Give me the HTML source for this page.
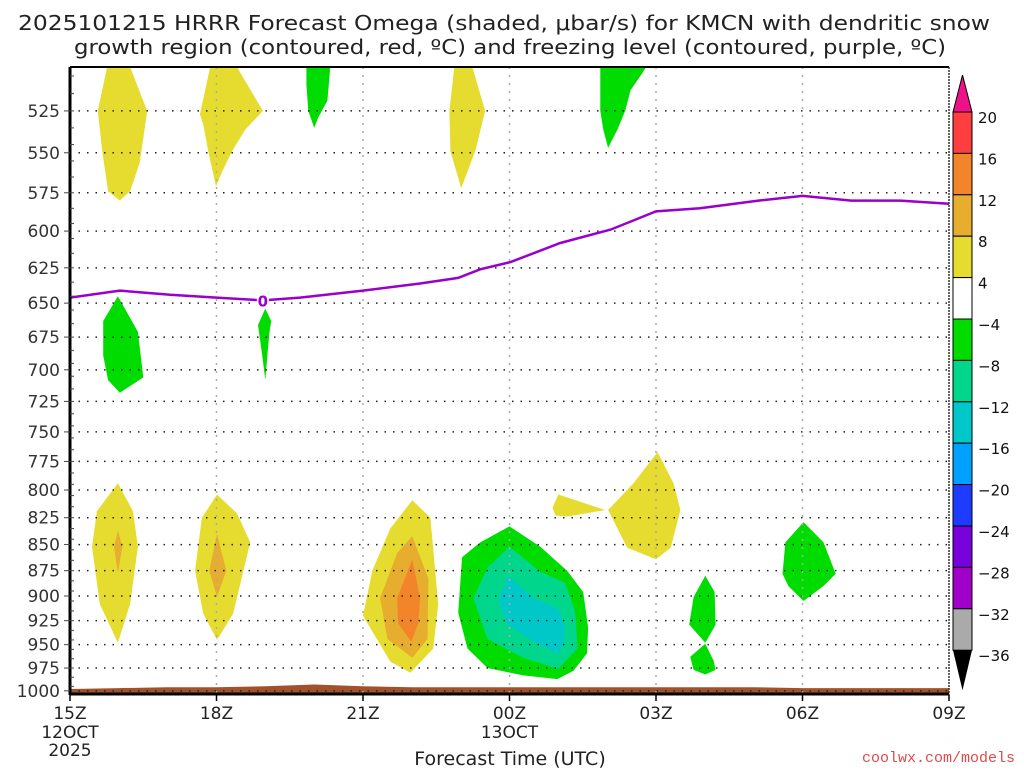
<!DOCTYPE html>
<html><head><meta charset="utf-8"><style>
html,body{margin:0;padding:0;background:#fff;}
svg{display:block;font-family:"DejaVu Sans","Liberation Sans",sans-serif;}
</style></head><body>
<svg id="chart" width="1024" height="768" viewBox="0 0 1024 768" xmlns="http://www.w3.org/2000/svg">
<rect x="0" y="0" width="1024" height="768" fill="#fff"/>
<text x="504" y="30" font-size="20" fill="#222" text-anchor="middle" textLength="972" lengthAdjust="spacingAndGlyphs">2025101215 HRRR Forecast Omega (shaded, μbar/s) for KMCN with dendritic snow</text>
<text x="510" y="54" font-size="20" fill="#222" text-anchor="middle" textLength="872" lengthAdjust="spacingAndGlyphs">growth region (contoured, red, ºC) and freezing level (contoured, purple, ºC)</text>
<g id="plot"></g>
<g id="axes"></g>
<g id="cbar"></g>
<text x="510" y="765" font-size="19" fill="#222" text-anchor="middle">Forecast Time (UTC)</text>
<text x="1015" y="762" font-size="15" fill="#e04a4a" text-anchor="end" font-family="Liberation Mono, monospace">coolwx.com/models</text>
</svg>
<script>
// ---- data ----
const pressureTicks = [525,550,575,600,625,650,675,700,725,750,775,800,825,850,875,900,925,950,975,1000];
const timeTickHours = [0,3,6,9,12,15,18];
const timeTickLabels = ["15Z","18Z","21Z","00Z","03Z","06Z","09Z"];
const freezeHours = [0,1.02,2.05,3,3.95,4.71,6,7.17,7.95,8.4,9.02,10.04,11.07,12,12.9,14.1,15,16,17,18];
const freezePres  = [646,641,644,646,648,646,641,636,632,626,621,608,599,587,585,580,577,580,580,582];
const surfHours = [0,1,2,3,4,5,6,7,8,9,10,11,12,13,14,15,16,17,18];
const surfPres  = [998,997,996,996,995,993,995,996,996,996,996,996,996,996,996,997,997,997,997];
const cbarLabels = ["20","16","12","8","4","-4","-8","-12","-16","-20","-24","-28","-32","-36"];
const cbarColors = ["#ff3f3f","#f2852a","#e6ad2f","#e6dc30","#ffffff","#00dc00","#00d78c","#00c8c8","#00a0ff","#1e3cff","#7800dc","#a000c8","#aaaaaa"];
// shaded omega regions: [color, hours[], pressures[]]
const regionColors = ["#e6dc30","#e6dc30","#00dc00","#e6dc30","#00dc00","#00dc00","#00dc00",
 "#e6dc30","#e6ad2f","#e6dc30","#e6ad2f","#e6dc30","#e6ad2f","#f2852a",
 "#00dc00","#00d78c","#00c8c8","#e6dc30","#e6dc30","#00dc00","#00dc00","#00dc00"];
const regionHours = [
 [0.76,1.23,1.58,1.43,1.23,1.02,0.78,0.66,0.57],
 [2.87,3.42,3.95,3.59,3.32,3.11,2.99,2.83,2.73,2.66],
 [4.84,5.33,5.27,5.08,5.0,4.88,4.84],
 [7.87,8.24,8.5,8.3,8.01,7.79,7.77],
 [10.86,11.8,11.68,11.48,11.37,11.21,11.02,10.92,10.86],
 [0.98,1.39,1.5,1.02,0.78,0.68,0.68],
 [4.0,4.12,4.08,4.0,3.93,3.85],
 [0.98,1.29,1.39,1.23,0.98,0.61,0.45,0.55],
 [0.98,1.07,0.98,0.9],
 [3.01,3.42,3.69,3.34,3.01,2.73,2.56,2.7],
 [3.01,3.2,3.01,2.85],
 [7.01,7.38,7.54,7.44,6.97,6.56,6.0,6.19,6.56],
 [7.01,7.34,7.32,7.01,6.5,6.35,6.7],
 [7.01,7.17,7.13,6.99,6.72,6.7],
 [9.0,9.63,10.18,10.51,10.61,10.59,10.31,9.98,9.28,8.55,8.14,7.95,8.03,8.4],
 [9.0,9.63,10.14,10.35,10.39,10.0,9.28,8.55,8.26,8.55],
 [8.98,9.49,10.0,10.14,10.1,10.0,9.43,8.96,8.77],
 [10.0,10.96,10.18,9.94,9.88],
 [12.03,12.36,12.5,12.3,12.0,11.41,11.02,11.54],
 [13.01,13.2,13.22,13.01,12.68,12.77],
 [13.01,13.18,13.22,13.01,12.77,12.7],
 [15.02,15.43,15.68,15.43,15.02,14.71,14.59,14.65]
];
const regionPres = [
 [500,500,525,556,574,580,574,549,525],
 [500,500,525,536,549,562,571,549,533,527],
 [500,500,519,529,535,525,510],
 [500,500,525,549,572,549,525],
 [500,500,505,513,525,536,547,536,525],
 [645,671,706,718,708,689,663],
 [654,663,673,708,687,666],
 [794,819,852,908,948,908,852,819],
 [837,852,877,852],
 [804,821,848,918,945,918,875,825],
 [840,875,901,875],
 [809,825,908,954,980,968,920,875,835],
 [842,883,944,964,944,902,858],
 [864,902,928,947,928,902],
 [833,852,875,896,932,959,978,987,983,975,954,917,862,848],
 [852,876,887,917,954,976,964,944,902,872],
 [880,902,913,932,950,960,945,929,904],
 [804,818,824,823,816],
 [767,794,818,853,864,853,818,794],
 [880,896,929,948,929,901],
 [949,967,977,982,977,963],
 [829,848,878,890,905,890,878,848]
];
// ---- axes ----
const X0=70, X1=949, Y0=67, PTOP=500;
const xs = h => X0 + h*(X1-X0)/18;
const ys = p => Y0 + Math.log(p/PTOP)*900;
const NS="http://www.w3.org/2000/svg";
function mk(tag, attrs, parent){const e=document.createElementNS(NS,tag);for(const k in attrs)e.setAttribute(k,attrs[k]);parent.appendChild(e);return e;}
const plot=document.getElementById('plot'), axes=document.getElementById('axes'), cbar=document.getElementById('cbar');

regionHours.forEach((hs,i)=>{
  const pts=hs.map((h,j)=>xs(h).toFixed(1)+','+ys(regionPres[i][j]).toFixed(1)).join(' ');
  const e=mk('polygon',{points:pts,fill:regionColors[i]},plot);
  
  
});
// terrain
{let d='M'+xs(surfHours[0])+','+(Y0+628);
 surfHours.forEach((h,i)=>{d+=' L'+xs(h).toFixed(1)+','+ys(surfPres[i]).toFixed(1);});
 d+=' L'+xs(18)+','+(Y0+628)+' Z';
 const e=mk('path',{d:d,fill:'#a0522d'},plot);
 
 }
// grid
pressureTicks.forEach(p=>{
  const e=mk('line',{x1:X0,x2:X1,y1:ys(p),y2:ys(p),stroke:'#222','stroke-width':1.5,'stroke-dasharray':'1.5 7'},plot);
  
  
});
timeTickHours.slice(1,6).forEach(h=>{
  const e=mk('line',{x1:xs(h),x2:xs(h),y1:Y0,y2:Y0+628,stroke:'#aaa','stroke-width':1.5,'stroke-dasharray':'2 6'},plot);
  
  
});
// freezing line
{const pts=freezeHours.map((h,i)=>xs(h).toFixed(1)+','+ys(freezePres[i]).toFixed(1)).join(' ');
 const e=mk('polyline',{points:pts,fill:'none',stroke:'#9900cc','stroke-width':2.5},plot);
 
 
 const r=mk('rect',{x:xs(3.95)-6,y:ys(648)-8,width:12,height:16,fill:'#fff'},plot);
 
 
 const t=mk('text',{x:xs(3.95),y:ys(648)+6,'font-size':15,'font-weight':'bold',fill:'#9900cc','text-anchor':'middle'},plot);
 t.textContent='0';
 
 }
// frame
mk('line',{x1:X0,x2:X1,y1:Y0,y2:Y0,stroke:'#000','stroke-width':2},axes);
mk('line',{x1:X0,x2:X1,y1:Y0+627,y2:Y0+627,stroke:'#000','stroke-width':3},axes);
mk('line',{x1:X0,x2:X0,y1:Y0,y2:Y0+628,stroke:'#000','stroke-width':3},axes);
mk('line',{x1:X1,x2:X1,y1:Y0,y2:Y0+628,stroke:'#333','stroke-width':1.5,'stroke-dasharray':'2 1'},axes);
for(let p=505;p<1000;p+=10){mk('line',{x1:X0,x2:X0+4,y1:ys(p),y2:ys(p),stroke:'#444','stroke-width':1},axes);}
pressureTicks.forEach(p=>{
  mk('line',{x1:X0-6,x2:X0,y1:ys(p),y2:ys(p),stroke:'#444','stroke-width':1},axes);
  const t=mk('text',{x:X0-10,y:ys(p)+6,'font-size':17,fill:'#333','text-anchor':'end'},axes);
  t.textContent=String(p);
  
  
});
timeTickHours.forEach((h,i)=>{
  mk('line',{x1:xs(h),x2:xs(h),y1:Y0+628,y2:Y0+634,stroke:'#000','stroke-width':1.5},axes);
  const t=mk('text',{x:xs(h),y:719,'font-size':17,fill:'#222','text-anchor':'middle'},axes);
  t.textContent=timeTickLabels[i];
  
  
});
[[0,738,'12OCT'],[0,756,'2025'],[9,738,'13OCT']].forEach(a=>{
  const t=mk('text',{x:xs(a[0]),y:a[1],'font-size':17,fill:'#222','text-anchor':'middle'},axes);
  t.textContent=a[2];
  
  
});
// colorbar
{const CX=953, CW=19, CT=112, SEG=41.4;
 const up=mk('polygon',{points:`${CX},${CT} ${CX+CW},${CT} ${CX+CW/2},${CT-37}`,fill:'#ee1188',stroke:'#000','stroke-width':1},cbar);
 
 
 cbarColors.forEach((c,i)=>{
   const r=mk('rect',{x:CX,y:CT+i*SEG,width:CW,height:SEG,fill:c,stroke:'#000','stroke-width':1},cbar);
   
   
 });
 const bot=CT+cbarColors.length*SEG;
 const dn=mk('polygon',{points:`${CX},${bot} ${CX+CW},${bot} ${CX+CW/2},${bot+40}`,fill:'#000'},cbar);
 
 
 cbarLabels.forEach((l,i)=>{
   const t=mk('text',{x:978,y:CT+i*SEG+11,'font-size':15,fill:'#111'},cbar);
   t.textContent=l.replace('-','−');
   
   
 });}
</script>
</body></html>
